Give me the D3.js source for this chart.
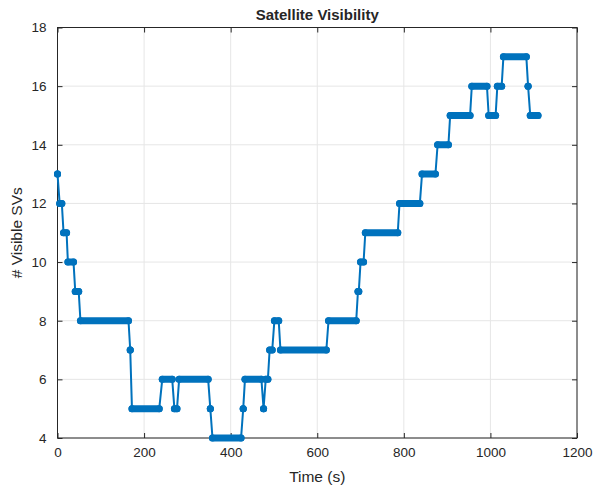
<!DOCTYPE html>
<html>
<head>
<meta charset="utf-8">
<script src="https://cdn.jsdelivr.net/npm/d3@7"></script>
<style>
  body { margin: 0; background: #fff; }
  text { font-family: 'Liberation Sans', Arial, sans-serif; fill: #262626; }
</style>
</head>
<body>
<div id="chart"></div>
<script>
// runs of constant visibility: value, first sample time, last sample time
const runValue = [13, 12, 11, 10, 9, 8, 7, 5, 6, 5, 6, 5, 4, 5, 6, 5, 6, 7, 8, 7, 8, 9, 10, 11, 12, 13, 14, 15, 16, 15, 16, 17, 16, 15];
const runStart = [0, 5, 14, 24, 41, 53, 168, 172, 242, 270, 281, 353, 358, 429, 433, 476, 481, 490, 501, 515, 626, 694, 700, 711, 790, 842, 878, 907, 957, 996, 1016, 1030, 1087, 1092];
const runEnd = [0, 10, 21, 37, 49, 164, 168, 235, 265, 276, 348, 353, 424, 429, 471, 476, 486, 496, 511, 621, 690, 696, 707, 786, 837, 873, 903, 953, 992, 1012, 1026, 1083, 1087, 1110];

const xTicks = [0, 200, 400, 600, 800, 1000, 1200];
const yTicks = [4, 6, 8, 10, 12, 14, 16, 18];

const width = 595;
const height = 487;
const margin = { top: 27.5, right: 18, bottom: 49, left: 57.5 };
const blue = '#0072BD';

const svg = d3.select('#chart')
  .append('svg')
  .attr('width', width)
  .attr('height', height);

const x = d3.scaleLinear()
  .domain([0, 1200])
  .range([margin.left, width - margin.right]);

const y = d3.scaleLinear()
  .domain([4, 18])
  .range([height - margin.bottom, margin.top]);

// grid
svg.append('g')
  .selectAll('line')
  .data(xTicks)
  .enter()
  .append('line')
  .attr('x1', (d) => x(d))
  .attr('x2', (d) => x(d))
  .attr('y1', y(4))
  .attr('y2', y(18))
  .attr('stroke', '#e6e6e6')
  .attr('stroke-width', 1);

svg.append('g')
  .selectAll('line')
  .data(yTicks)
  .enter()
  .append('line')
  .attr('x1', x(0))
  .attr('x2', x(1200))
  .attr('y1', (d) => y(d))
  .attr('y2', (d) => y(d))
  .attr('stroke', '#e6e6e6')
  .attr('stroke-width', 1);

// axes (ticks inside, box on)
const tickLen = 5;
svg.append('g')
  .attr('transform', `translate(0 ${y(4)})`)
  .call(d3.axisBottom(x).tickValues(xTicks).tickFormat(d3.format('d'))
    .tickSizeInner(-tickLen).tickSizeOuter(0).tickPadding(9))
  .call((g) => g.select('.domain').remove());
svg.append('g')
  .attr('transform', `translate(0 ${y(18)})`)
  .call(d3.axisTop(x).tickValues(xTicks).tickSizeInner(-tickLen).tickSizeOuter(0).tickFormat(''))
  .call((g) => g.select('.domain').remove());
svg.append('g')
  .attr('transform', `translate(${x(0)} 0)`)
  .call(d3.axisLeft(y).tickValues(yTicks).tickSizeInner(-tickLen).tickSizeOuter(0).tickPadding(11))
  .call((g) => g.select('.domain').remove());
svg.append('g')
  .attr('transform', `translate(${x(1200)} 0)`)
  .call(d3.axisRight(y).tickValues(yTicks).tickSizeInner(-tickLen).tickSizeOuter(0).tickFormat(''))
  .call((g) => g.select('.domain').remove());

svg.selectAll('.tick line').attr('stroke', '#262626');
svg.selectAll('.tick text')
  .style('font-size', '13.5px')
  .attr('fill', '#262626');

svg.append('rect')
  .attr('x', x(0))
  .attr('y', y(18))
  .attr('width', x(1200) - x(0))
  .attr('height', y(4) - y(18))
  .attr('fill', 'none')
  .attr('stroke', '#262626')
  .attr('stroke-width', 1);

// step line through every run
const pts = [];
runValue.forEach((v, i) => {
  pts.push([runStart[i], v]);
  if (runEnd[i] !== runStart[i]) pts.push([runEnd[i], v]);
});

const line = d3.line()
  .x((d) => x(d[0]))
  .y((d) => y(d[1]));

const plot = svg.append('g');

plot.append('path')
  .datum(pts)
  .attr('d', line)
  .attr('fill', 'none')
  .attr('stroke', blue)
  .attr('stroke-width', 2);

// markers: dense samples within each run
const runs = runValue.map((v, i) => ({ v, s: runStart[i], e: runEnd[i] }));

plot.selectAll('.run')
  .data(runs)
  .enter()
  .append('line')
  .attr('class', 'run')
  .attr('x1', (d) => x(d.s))
  .attr('x2', (d) => x(d.e))
  .attr('y1', (d) => y(d.v))
  .attr('y2', (d) => y(d.v))
  .attr('stroke', blue)
  .attr('stroke-width', 7)
  .attr('stroke-linecap', 'round');

plot.selectAll('.endpt')
  .data(runs.flatMap((d) => [[d.s, d.v], [d.e, d.v]]))
  .enter()
  .append('circle')
  .attr('class', 'endpt')
  .attr('cx', (d) => x(d[0]))
  .attr('cy', (d) => y(d[1]))
  .attr('r', 3.5)
  .attr('fill', blue);

// labels
svg.append('text')
  .attr('x', (x(0) + x(1200)) / 2)
  .attr('y', 20)
  .attr('text-anchor', 'middle')
  .style('font-size', '15px')
  .style('font-weight', 'bold')
  .attr('fill', '#000')
  .text('Satellite Visibility');

svg.append('text')
  .attr('x', (x(0) + x(1200)) / 2)
  .attr('y', 482)
  .attr('text-anchor', 'middle')
  .style('font-size', '15.5px')
  .text('Time (s)');

svg.append('text')
  .attr('transform', `translate(22 ${(y(4) + y(18)) / 2}) rotate(-90)`)
  .attr('text-anchor', 'middle')
  .style('font-size', '15.5px')
  .text('# Visible SVs');
</script>
</body>
</html>
